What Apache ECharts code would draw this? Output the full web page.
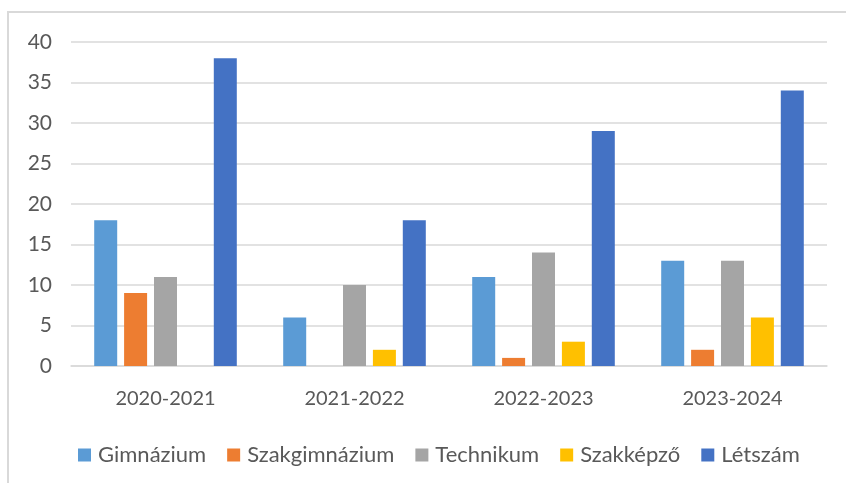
<!DOCTYPE html>
<html lang="hu">
<head>
<meta charset="UTF-8">
<title>Létszám</title>
<style>
  html, body { margin: 0; padding: 0; background: #fff; }
  #frame { position: absolute; left: 7px; top: 11px; width: 839px; height: 472px;
           border-top: 2px solid #d9d9d9; border-left: 2px solid #d9d9d9; box-sizing: border-box; }
  #main { position: absolute; left: 0; top: 0; width: 846px; height: 483px; }
</style>
<script src="https://cdn.jsdelivr.net/npm/echarts@6/dist/echarts.min.js"></script>
</head>
<body>
<div id="frame"></div>
<div id="main"></div>
<script>
var years = ['2020-2021', '2021-2022', '2022-2023', '2023-2024'];
var gimnazium = [18, 6, 11, 13];
var szakgimnazium = [9, 0, 1, 2];
var technikum = [11, 10, 14, 13];
var szakkepzo = [0, 2, 3, 6];
var letszam = [38, 18, 29, 34];
var yTicks = [0, 5, 10, 15, 20, 25, 30, 35, 40];

var font = 'Lato, "Open Sans", sans-serif';
var textColor = '#595959';

var myChart = echarts.init(document.getElementById('main'));

function bar(name, data, color) {
  return {
    name: name,
    type: 'bar',
    data: data,
    barWidth: 23,
    barGap: '30%',
    itemStyle: { color: color },
    emphasis: { disabled: true }
  };
}

var option = {
  animation: false,
  textStyle: { fontFamily: font },
  grid: { left: 71, right: 19, top: 42, bottom: 117 },
  legend: {
    top: 439,
    left: 73,
    itemWidth: 13,
    itemHeight: 13,
    itemGap: 21,
    icon: 'rect',
    textStyle: { color: textColor, fontSize: 22, fontFamily: font, padding: [0, 0, 0, 2] }
  },
  xAxis: {
    type: 'category',
    data: years,
    axisTick: { show: false },
    axisLine: { lineStyle: { color: '#d9d9d9', width: 1.5 } },
    axisLabel: { color: textColor, fontSize: 20, margin: 23, fontFamily: font }
  },
  yAxis: {
    type: 'value',
    min: yTicks[0],
    max: yTicks[yTicks.length - 1],
    interval: 5,
    axisLine: { show: false },
    axisTick: { show: false },
    splitLine: { lineStyle: { color: '#d9d9d9', width: 1.5 } },
    axisLabel: { color: textColor, fontSize: 21, margin: 19, fontFamily: font }
  },
  series: [
    bar('Gimnázium', gimnazium, '#5b9bd5'),
    bar('Szakgimnázium', szakgimnazium, '#ed7d31'),
    bar('Technikum', technikum, '#a5a5a5'),
    bar('Szakképző', szakkepzo, '#ffc000'),
    bar('Létszám', letszam, '#4472c4')
  ]
};
myChart.setOption(option);
</script>
</body>
</html>
